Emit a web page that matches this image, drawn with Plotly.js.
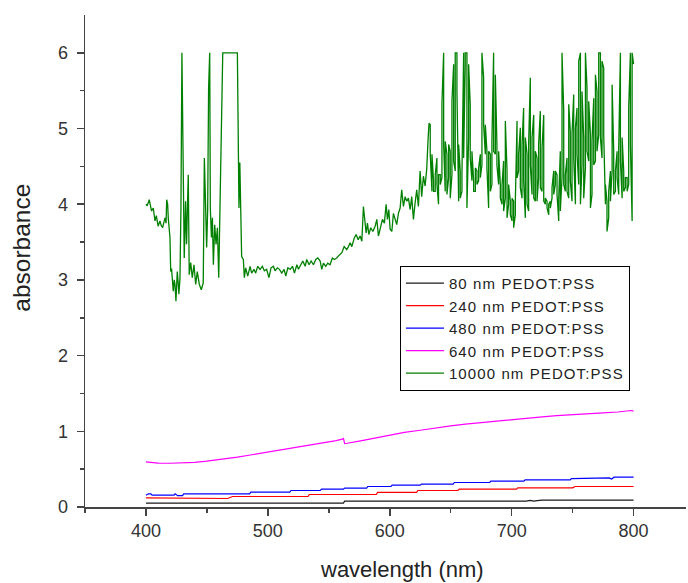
<!DOCTYPE html>
<html>
<head>
<meta charset="utf-8">
<script src="https://cdn.plot.ly/plotly-3.0.1.min.js"></script>
<style>html,body{margin:0;padding:0;background:#fff;}#chart{width:688px;height:583px;}
.legendtext{letter-spacing:1.1px;}</style>
</head>
<body>
<div id="chart"></div>
<script>
// ---------- data ----------
const seriesNames = ['80 nm PEDOT:PSS','240 nm PEDOT:PSS','480 nm PEDOT:PSS','640 nm PEDOT:PSS','10000 nm PEDOT:PSS'];

const wl80  = [400,562,563,700,703,706,709,712,715,718,721,725,800];
const abs80 = [0.051,0.051,0.077,0.077,0.085,0.075,0.085,0.077,0.088,0.078,0.085,0.090,0.090];

const wl240  = [400,458,459,467,471,533,534,589,590,622,623,656,657,700,702,704,705,750,752,800];
const abs240 = [0.121,0.121,0.112,0.112,0.139,0.139,0.165,0.165,0.192,0.192,0.218,0.218,0.236,0.236,0.245,0.236,0.253,0.253,0.271,0.271];

const wl480  = [400,402,404,405,423,424,426,430,431,485,486,518,519,543,544,562,563,581,582,601,602,625,626,652,653,682,683,710,711,748,749,778,780,782,784,800];
const abs480 = [0.156,0.174,0.174,0.156,0.156,0.174,0.150,0.150,0.174,0.174,0.196,0.196,0.218,0.218,0.236,0.236,0.249,0.249,0.271,0.271,0.288,0.288,0.302,0.302,0.324,0.324,0.341,0.341,0.359,0.359,0.376,0.376,0.385,0.370,0.394,0.394];

const wl640  = [400,403,405,410,420,430,440,450,460,475,487,500,512,525,537,550,556,561,562,563,565,575,587,600,612,625,637,650,662,675,687,700,712,725,737,750,762,775,787,795,798,800];
const abs640 = [0.597,0.590,0.584,0.580,0.578,0.580,0.590,0.605,0.623,0.658,0.690,0.724,0.762,0.799,0.830,0.861,0.878,0.896,0.905,0.839,0.842,0.870,0.910,0.953,0.985,1.014,1.044,1.072,1.095,1.116,1.138,1.160,1.176,1.191,1.207,1.222,1.233,1.244,1.255,1.266,1.275,1.266];

// 10000 nm film, 400-632 nm (point by point)
const wl10000 = [400,401,402.7,403.5,404.6,406,407.4,408.5,410,411.5,412.5,413.7,415.6,416.5,417,417.8,418.3,419.7,420.3,421,421.6,422.4,423.2,423.8,424.6,425.2,425.7,426.5,427,427.9,428.7,429.5,430,430.6,431.4,432.5,433.3,434.7,435.5,436.7,437.3,438,439.4,440.1,440.8,442.1,443,443.8,445.4,447,447.9,449,449.8,450.6,451.4,452.3,452.8,453.7,454.5,455.3,456.4,457.5,458.6,459.7,460.5,461.3,462.1,463,475,475.5,476.3,477,477.5,478,478.5,479.9,480.7,481.8,483.5,485.4,486.7,488.6,490,491.7,493.6,495.5,497.1,499,500.9,502.6,504.5,505.9,507.8,509.5,511.4,513.3,514.7,516.4,518.3,520.2,521.8,523.8,525.1,527,528.7,530.6,531.9,533.8,535.5,537.4,539.3,541,542.9,544.2,545.6,547.5,549.1,551,552.9,554.6,556.5,558.7,560.7,562.6,564.7,566.1,567.5,568.9,570.8,572.4,574.1,575.7,577.1,578.4,579.5,580.6,581.7,582.8,584.4,586.1,588,589.4,590.7,592.1,594,595.6,597,598.1,599.2,600.3,601.7,603,604.4,605.7,607.1,608.5,609.8,611.2,612.6,613.9,615.3,616.7,618,619.4,620.8,622.1,623.5,624.9,626.2,627.6,629,630.3,631.4,632.2];
const abs10000 = [4.0,3.98,4.06,4.0,3.91,3.95,3.78,3.85,3.71,3.78,3.72,3.69,3.82,3.75,4.06,4.0,3.82,3.56,3.11,3.15,2.98,2.85,3.0,2.94,2.72,2.9,3.11,2.95,2.81,3.02,3.95,6.0,5.18,4.13,3.29,4.04,3.47,4.39,3.07,3.23,3.1,3.03,3.2,3.05,2.94,3.11,3.0,2.94,2.87,2.96,4.61,4.0,3.43,3.91,5.54,6.0,3.95,3.56,3.82,3.2,3.73,3.47,3.69,3.03,3.78,4.26,4.96,6.0,6.0,5.4,3.95,4.55,3.93,3.44,3.31,3.27,3.03,3.16,3.05,3.18,3.09,3.14,3.09,3.18,3.14,3.18,3.12,3.14,3.03,3.16,3.18,3.12,3.16,3.14,3.09,3.14,3.05,3.16,3.14,3.18,3.09,3.2,3.14,3.2,3.25,3.18,3.27,3.2,3.25,3.2,3.27,3.29,3.25,3.14,3.22,3.18,3.22,3.2,3.29,3.27,3.29,3.33,3.36,3.44,3.4,3.44,3.49,3.44,3.55,3.6,3.53,3.58,3.51,3.97,3.8,3.62,3.75,3.6,3.69,3.64,3.71,3.8,3.58,3.67,3.8,3.75,4.0,3.8,3.93,3.67,3.64,3.88,3.8,3.73,3.88,3.95,4.19,3.97,4.1,4.04,4.08,3.93,4.1,3.8,4.02,4.19,3.97,4.44,4.1,4.37,4.24,4.46,4.85,5.07];

// 10000 nm film, 633-799 nm: each reading is one vertical stroke (high and low value)
const strokeWl = [633.2,634.6,635.9,637.3,638.7,640.0,641.4,642.8,644.2,645.5,646.9,648.3,649.6,651.0,652.4,653.7,655.1,656.5,657.8,659.2,660.6,661.9,663.3,664.7,666.0,667.4,668.8,670.2,671.5,672.9,674.3,675.6,677.0,678.4,679.7,681.1,682.5,683.8,685.2,686.6,687.9,689.3,690.7,692.1,693.4,694.8,696.2,697.5,698.9,700.3,701.6,703.0,704.4,705.7,707.1,708.5,709.8,711.2,712.6,713.9,
715.3,716.7,718.1,719.4,720.8,722.1,723.5,724.9,726.3,727.6,729.0,730.4,731.7,733.1,734.5,735.8,737.2,738.6,739.9,741.3,742.7,744.0,745.4,746.8,748.1,749.5,750.9,752.3,753.6,755.0,756.4,757.7,759.1,760.5,761.8,763.2,764.6,765.9,767.3,768.7,770.0,771.4,772.8,774.1,775.5,776.9,778.2,779.6,781.0,782.4,783.7,785.1,786.5,787.8,789.2,790.6,791.9,793.3,794.7,796.0,797.4,798.8];
const strokeHigh = [5.05,4.66,4.31,4.39,4.61,4.39,4.39,5.32,6.0,4.83,4.66,4.79,4.70,5.36,5.85,6.0,6.0,4.79,4.44,4.39,6.0,6.0,6.0,5.85,5.32,4.70,4.31,4.48,4.44,4.48,4.66,6.0,5.67,5.05,4.70,4.70,4.66,4.83,6.0,5.71,4.79,4.70,4.26,4.26,4.57,5.10,4.44,4.26,4.04,4.08,4.04,4.04,5.10,4.66,5.01,4.79,5.27,4.88,4.66,4.79,
5.67,4.88,5.18,4.70,4.61,4.79,5.23,4.74,5.18,4.08,4.04,4.0,4.04,4.22,4.44,4.44,4.39,4.08,4.70,6.0,5.23,4.39,4.61,5.32,4.96,4.92,5.45,5.01,5.27,5.89,6.0,5.49,4.88,6.0,5.54,5.36,4.92,4.83,5.40,5.71,5.49,6.0,6.0,5.89,5.80,4.26,4.04,4.17,4.44,5.58,4.70,4.44,4.70,4.74,6.0,4.88,4.44,4.35,4.35,5.27,6.0,6.0];
const strokeLow = [4.66,4.17,4.17,4.17,4.26,4.0,4.26,4.35,4.79,4.17,4.13,4.35,4.08,4.39,4.57,4.44,5.49,4.04,4.08,4.17,4.61,5.85,3.95,4.88,4.61,4.31,4.17,4.17,4.26,4.31,4.35,4.52,5.05,4.66,4.48,3.95,4.17,4.26,4.70,4.66,4.52,4.26,4.08,4.0,3.91,4.08,3.82,4.0,3.86,3.78,3.69,3.86,4.35,4.44,4.22,4.08,4.31,3.82,4.0,3.91,
4.52,4.13,4.08,4.04,4.04,4.35,4.22,4.17,4.04,4.0,3.95,3.86,3.95,4.08,4.13,4.26,4.13,3.78,3.91,4.35,4.26,4.17,4.17,4.08,4.31,4.04,4.61,4.0,4.66,4.26,4.0,4.52,4.08,4.48,4.70,4.57,3.95,4.13,4.52,4.57,4.70,4.92,4.88,4.61,4.92,4.0,3.64,3.82,4.04,4.44,4.13,4.17,4.35,4.13,4.57,4.08,4.17,4.22,4.17,4.26,4.79,3.78];
const tailWl = [800];
const tailAbs = [5.85];

const xTickVals = [400,500,600,700,800];
const xTickText = ['400','500','600','700','800'];
const xMinorVals = [350,450,550,650,750];
const yTickVals = [0,1,2,3,4,5,6];
const yTickText = ['0','1','2','3','4','5','6'];
const yMinorVals = [0.5,1.5,2.5,3.5,4.5,5.5];
const xTitle = 'wavelength (nm)';
const yTitle = 'absorbance';

// ---------- build the green polyline ----------
const gx = wl10000.slice();
const gy = abs10000.slice();
strokeWl.forEach((w, i) => {
  const pair = (i % 2 === 0) ? [strokeHigh[i], strokeLow[i]] : [strokeLow[i], strokeHigh[i]];
  gx.push(w, w);
  gy.push(pair[0], pair[1]);
});
tailWl.forEach((w, i) => { gx.push(w); gy.push(tailAbs[i]); });

const colors = ['#1a1a1a','#ff0000','#0000ff','#ff00ff','#008000'];
const xs = [wl80, wl240, wl480, wl640, gx];
const ys = [abs80, abs240, abs480, abs640, gy];

const traces = seriesNames.map((n, i) => ({
  type: 'scatter', mode: 'lines', name: n,
  x: xs[i], y: ys[i],
  line: {color: colors[i], width: i === 4 ? 1.3 : 1.2},
  hoverinfo: 'skip'
}));

const axisColor = '#444';
const fam = 'Liberation Sans, Arial, sans-serif';
const layout = {
  width: 688, height: 583,
  margin: {l: 85, r: 2, t: 15, b: 75.5, pad: 0},
  paper_bgcolor: '#fff', plot_bgcolor: '#fff',
  font: {family: fam, color: '#333'},
  showlegend: true,
  legend: {
    x: 0.524, y: 0.49, xanchor: 'left', yanchor: 'top',
    bgcolor: '#fff', bordercolor: '#000', borderwidth: 1,
    font: {size: 15, color: '#222', family: fam},
    tracegroupgap: 0, itemwidth: 38
  },
  xaxis: {
    range: [350, 843], tickmode: 'array', tickvals: xTickVals, ticktext: xTickText,
    ticks: 'outside', ticklen: 7, tickwidth: 1.5, tickcolor: axisColor,
    showline: true, linecolor: axisColor, linewidth: 1.5,
    showgrid: false, zeroline: false, automargin: false,
    tickfont: {size: 18, color: '#333'},
    minor: {tickmode: 'array', tickvals: xMinorVals, ticks: 'outside', ticklen: 4, tickwidth: 1.5, tickcolor: axisColor, showgrid: false}
  },
  yaxis: {
    range: [0, 6.5], tickmode: 'array', tickvals: yTickVals, ticktext: yTickText,
    ticks: 'outside', ticklen: 7, tickwidth: 1.5, tickcolor: axisColor,
    showline: true, linecolor: axisColor, linewidth: 1.5,
    showgrid: false, zeroline: false, automargin: false,
    ticklabelstandoff: 5,
    tickfont: {size: 18, color: '#333'},
    minor: {tickmode: 'array', tickvals: yMinorVals, ticks: 'outside', ticklen: 4, tickwidth: 1.5, tickcolor: axisColor, showgrid: false}
  },
  annotations: [
    {text: xTitle, xref: 'paper', yref: 'paper', x: 0.527, y: 0, xanchor: 'center', yanchor: 'middle', yshift: -62, showarrow: false, font: {size: 22, color: '#222', family: fam}},
    {text: yTitle, xref: 'paper', yref: 'paper', x: 0, y: 0.527, xanchor: 'center', yanchor: 'middle', xshift: -63, textangle: -90, showarrow: false, font: {size: 24.5, color: '#222', family: fam}}
  ]
};

Plotly.newPlot('chart', traces, layout, {displayModeBar: false, staticPlot: true});
</script>
</body>
</html>
